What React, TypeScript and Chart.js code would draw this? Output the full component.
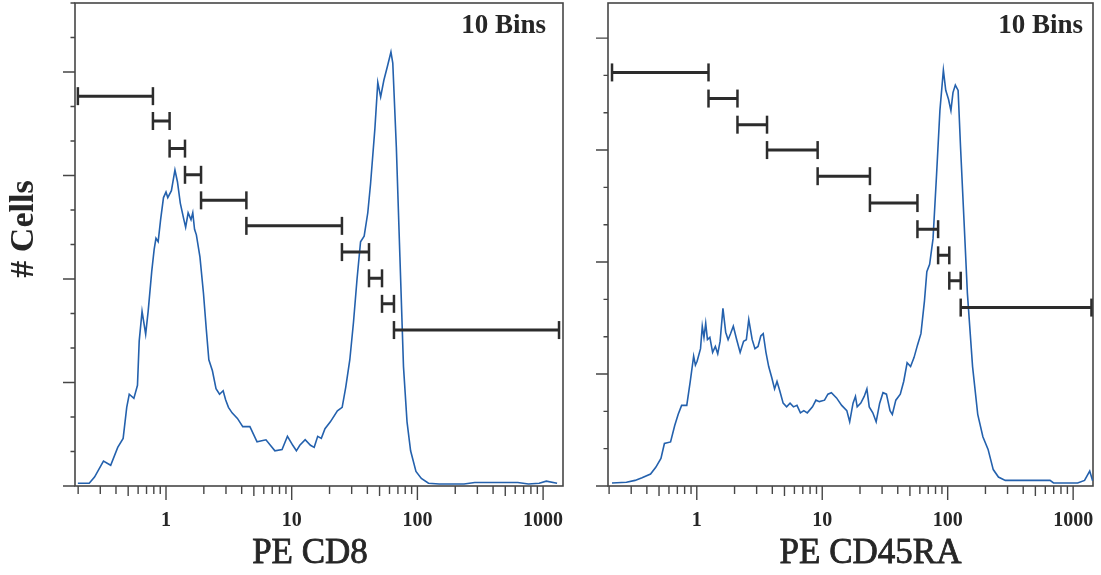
import React, { useEffect, useRef } from 'react';
import { Chart, registerables } from 'chart.js';

Chart.register(...registerables);

// ---------- data ----------
const xTickValues = [
  0.2, 0.3, 0.4, 0.5, 0.6, 0.7, 0.8, 0.9,
  1, 2, 3, 4, 5, 6, 7, 8, 9,
  10, 20, 30, 40, 50, 60, 70, 80, 90,
  100, 200, 300, 400, 500, 600, 700, 800, 900,
  1000,
];
const xTickLabelValues = [1, 10, 100, 1000];
const xTickLabels = ['1', '10', '100', '1000'];

const cd8X = [
  0.199, 0.245, 0.270, 0.318, 0.363, 0.413, 0.456, 0.487, 0.510, 0.555,
  0.593, 0.612, 0.645, 0.689, 0.721, 0.770, 0.805, 0.832, 0.866, 0.906,
  0.955, 1.0, 1.033, 1.104, 1.178, 1.233, 1.299, 1.387, 1.433, 1.500,
  1.581, 1.633, 1.687, 1.744, 1.862, 1.987, 2.094, 2.192, 2.340, 2.500,
  2.667, 2.848, 2.980, 3.140, 3.355, 3.700, 4.08, 4.65, 5.30, 6.24,
  7.35, 8.38, 9.25, 10.2, 10.9, 11.6, 12.8, 14.1, 15.1, 16.1,
  17.2, 18.4, 20.3, 23.1, 25.2, 26.9, 29.0, 31.0, 33.1, 35.3,
  37.7, 40.3, 42.4, 45.9, 48.4, 51.0, 54.1, 57.7, 61.6, 63.7,
  68.0, 72.6, 77.5, 82.7, 88.3, 97.4, 107.5, 122.5, 149, 235,
  286, 629, 765, 931, 1061, 1292,
];
const cd8Counts = [
  4, 4, 13, 36, 30, 56, 69, 114, 133, 127,
  146, 210, 253, 220, 253, 311, 343, 359, 354, 386,
  418, 426, 418, 428, 458, 441, 410, 386, 375, 396,
  386, 396, 372, 364, 332, 279, 226, 183, 167, 141,
  133, 138, 125, 114, 106, 98, 86, 86, 64, 67,
  51, 53, 72, 59, 51, 59, 67, 59, 56, 72,
  69, 83, 93, 109, 114, 143, 183, 237, 300, 354,
  362, 396, 438, 518, 585, 564, 588, 608, 629, 613,
  491, 332, 173, 93, 51, 21, 11, 4, 3, 3,
  5, 5, 3, 4, 7, 4,
];
const cd8BinEdges = [0.199, 0.787, 1.068, 1.416, 1.9, 4.36, 25.1, 41.2, 52.3, 65.1, 1339];
const cd8BinLevels = [565, 529, 489, 451, 414, 377, 339, 301, 264, 226];

const cd45X = [
  0.211, 0.275, 0.322, 0.366, 0.428, 0.471, 0.518, 0.552, 0.618, 0.667,
  0.711, 0.757, 0.832, 0.887, 0.944, 0.975, 1.006, 1.071, 1.106, 1.141,
  1.178, 1.216, 1.271, 1.337, 1.406, 1.469, 1.535, 1.616, 1.700, 1.777,
  1.857, 1.955, 2.081, 2.216, 2.361, 2.484, 2.596, 2.765, 2.909, 3.078,
  3.238, 3.385, 3.559, 3.743, 3.963, 4.17, 4.36, 4.58, 4.88, 5.20,
  5.54, 5.90, 6.29, 6.70, 7.13, 7.60, 8.36, 8.91, 9.49, 10.43,
  11.1, 11.83, 13.0, 14.3, 15.7, 16.55, 17.6, 18.4, 19.0, 20.3,
  21.6, 22.7, 23.7, 25.3, 26.9, 28.7, 30.5, 32.5, 34.7, 36.2,
  38.6, 41.9, 44.6, 47.5, 50.6, 53.9, 57.5, 61.2, 65.3, 68.2,
  71.8, 76.4, 81.4, 86.7, 92.4, 96.5, 101.5, 106.1, 110.2, 115.1,
  121.1, 126.6, 134.9, 143.6, 157.9, 173.6, 190.8, 209.9, 230.8, 253.8,
  287.8, 420.6, 654.6, 697.8, 1086, 1233, 1356, 1430,
];
const cd45Counts = [
  4, 5, 7.5, 11, 16, 25, 37, 57, 59, 81,
  96, 108, 108, 140, 174, 162, 167, 184, 214, 199,
  218, 196, 199, 179, 187, 177, 194, 238, 206, 196,
  204, 214, 196, 179, 194, 196, 223, 196, 184, 187,
  201, 204, 179, 160, 145, 130, 140, 128, 111, 106,
  111, 106, 108, 98, 101, 98, 106, 115, 113, 115,
  123, 125, 118, 108, 101, 86, 111, 120, 106, 111,
  120, 130, 106, 98, 86, 111, 125, 123, 101, 96,
  115, 123, 140, 165, 160, 172, 189, 204, 248, 287,
  297, 331, 415, 503, 557, 530, 518, 503, 527, 537,
  530, 454, 356, 258, 160, 96, 66, 49, 22, 12,
  7.5, 7.5, 7.5, 4, 4, 7.5, 20, 7,
];
const cd45BinEdges = [0.211, 1.24, 2.11, 3.63, 9.19, 24.0, 57.4, 83.9, 103, 127, 1400];
const cd45BinLevels = [554, 519, 484, 450, 415, 379, 344, 309, 275, 239];

// ---------- drawing helpers ----------
const SERIF = '"Liberation Serif", "DejaVu Serif", serif';

function binPoints(edges: number[], levels: number[]) {
  const pts: { x: number; y: number | null }[] = [];
  for (let i = 0; i < levels.length; i++) {
    pts.push({ x: edges[i], y: levels[i] });
    pts.push({ x: edges[i + 1], y: levels[i] });
    pts.push({ x: edges[i + 1], y: null });
  }
  return pts;
}

const panelPlugin = {
  id: 'panelDecor',
  beforeDatasetsDraw(chart: any, _args: any, opts: any) {
    const { ctx, chartArea } = chart;
    const { left, right, top, bottom } = chartArea;
    const xs = chart.scales.x;
    const ys = chart.scales.y;
    ctx.save();
    ctx.strokeStyle = '#464646';
    ctx.lineWidth = 1.6;
    ctx.strokeRect(left, top, right - left, bottom - top);
    ctx.lineWidth = 1.4;
    ctx.beginPath();
    for (let v = 0; v <= opts.yMax; v += opts.yStep) {
      const py = ys.getPixelForValue(v);
      const len = v % (opts.yStep * 3) === 0 ? 12 : 4.5;
      ctx.moveTo(left - len, py);
      ctx.lineTo(left, py);
    }
    for (const v of xTickValues) {
      const px = xs.getPixelForValue(v);
      const m = Math.round(v / Math.pow(10, Math.floor(Math.log10(v) + 1e-9)));
      const len = m === 1 ? 14 : m === 5 ? 10 : 8;
      ctx.moveTo(px, bottom);
      ctx.lineTo(px, bottom + len);
    }
    ctx.stroke();
    ctx.restore();
  },
  afterDraw(chart: any, _args: any, opts: any) {
    const { ctx, chartArea } = chart;
    const { left, right, top, bottom } = chartArea;
    const xs = chart.scales.x;
    ctx.save();
    ctx.fillStyle = '#262626';
    ctx.strokeStyle = '#262626';
    ctx.textAlign = 'center';
    ctx.textBaseline = 'alphabetic';
    ctx.font = `bold 20px ${SERIF}`;
    xTickLabelValues.forEach((v, i) => {
      ctx.fillText(xTickLabels[i], xs.getPixelForValue(v), bottom + 40);
    });
    ctx.font = `35px ${SERIF}`;
    ctx.lineWidth = 0.8;
    const tx = (left + right) / 2 + opts.titleShift;
    ctx.fillText(opts.title, tx, 563);
    ctx.strokeText(opts.title, tx, 563);
    ctx.font = `bold 27px ${SERIF}`;
    ctx.textAlign = 'right';
    ctx.fillText(opts.binsText, right - opts.binsGap, top + 30);
    if (opts.yTitle) {
      ctx.font = `bold 34px ${SERIF}`;
      ctx.textAlign = 'center';
      ctx.translate(opts.yTitleX, opts.yTitleY);
      ctx.rotate(-Math.PI / 2);
      ctx.fillText(opts.yTitle, 0, 0);
    }
    ctx.restore();
  },
};

type PanelProps = {
  left: number;
  width: number;
  xs: number[];
  counts: number[];
  edges: number[];
  levels: number[];
  xMin: number;
  xMax: number;
  yMax: number;
  yAxisWidth: number;
  padRight: number;
  title: string;
  titleShift: number;
  binsGap: number;
  yTitle?: string;
};

function Panel(p: PanelProps) {
  const ref = useRef<HTMLCanvasElement | null>(null);
  useEffect(() => {
    if (!ref.current) return;
    const chart = new Chart(ref.current, {
      type: 'line',
      data: {
        datasets: [
          {
            label: 'bins',
            data: binPoints(p.edges, p.levels) as any,
            borderColor: '#2c2c2c',
            borderWidth: 3,
            pointStyle: 'line',
            pointRotation: 90,
            pointRadius: 9,
            pointHoverRadius: 9,
            pointBorderWidth: 2.5,
            pointBorderColor: '#2c2c2c',
            pointBackgroundColor: '#2c2c2c',
            spanGaps: false,
            tension: 0,
          },
          {
            label: 'cells',
            data: p.xs.map((x, i) => ({ x, y: p.counts[i] })),
            borderColor: '#2461ad',
            borderWidth: 1.6,
            pointRadius: 0,
            tension: 0,
            fill: false,
          },
        ],
      },
      options: {
        animation: false,
        responsive: false,
        devicePixelRatio: 1,
        events: [],
        layout: { autoPadding: false, padding: { left: 0, right: p.padRight, top: 3, bottom: 0 } },
        plugins: {
          legend: { display: false },
          tooltip: { enabled: false },
          panelDecor: {
            yMax: p.yMax,
            yStep: 50,
            title: p.title,
            titleShift: p.titleShift,
            binsText: '10 Bins',
            binsGap: p.binsGap,
            yTitle: p.yTitle,
            yTitleX: 33,
            yTitleY: 229,
          },
        } as any,
        scales: {
          x: {
            type: 'logarithmic',
            min: p.xMin,
            max: p.xMax,
            afterBuildTicks: (s: any) => {
              s.ticks = xTickValues.map((v) => ({ value: v }));
            },
            afterFit: (s: any) => {
              s.height = 89;
            },
            ticks: { display: false },
            grid: { display: false },
            border: { display: false },
          },
          y: {
            type: 'linear',
            min: 0,
            max: p.yMax,
            afterFit: (s: any) => {
              s.width = p.yAxisWidth;
            },
            ticks: { display: false, stepSize: 50 },
            grid: { display: false },
            border: { display: false },
          },
        },
      },
      plugins: [panelPlugin as any],
    });
    return () => chart.destroy();
  }, []);
  return (
    <canvas
      ref={ref}
      width={p.width}
      height={575}
      style={{ position: 'absolute', left: p.left, top: 0, width: p.width, height: 575 }}
    />
  );
}

export default function App() {
  return (
    <div style={{ position: 'absolute', left: 0, top: 0, width: 1101, height: 575, background: '#fff' }}>
      <Panel
        left={0}
        width={586}
        xs={cd8X}
        counts={cd8Counts}
        edges={cd8BinEdges}
        levels={cd8BinLevels}
        xMin={0.1888}
        xMax={1440}
        yMax={700}
        yAxisWidth={75}
        padRight={23}
        title="PE CD8"
        titleShift={-9}
        binsGap={17}
        yTitle="# Cells"
      />
      <Panel
        left={586}
        width={515}
        xs={cd45X}
        counts={cd45Counts}
        edges={cd45BinEdges}
        levels={cd45BinLevels}
        xMin={0.196}
        xMax={1440}
        yMax={647}
        yAxisWidth={22}
        padRight={8}
        title="PE CD45RA"
        titleShift={20}
        binsGap={10}
      />
    </div>
  );
}
